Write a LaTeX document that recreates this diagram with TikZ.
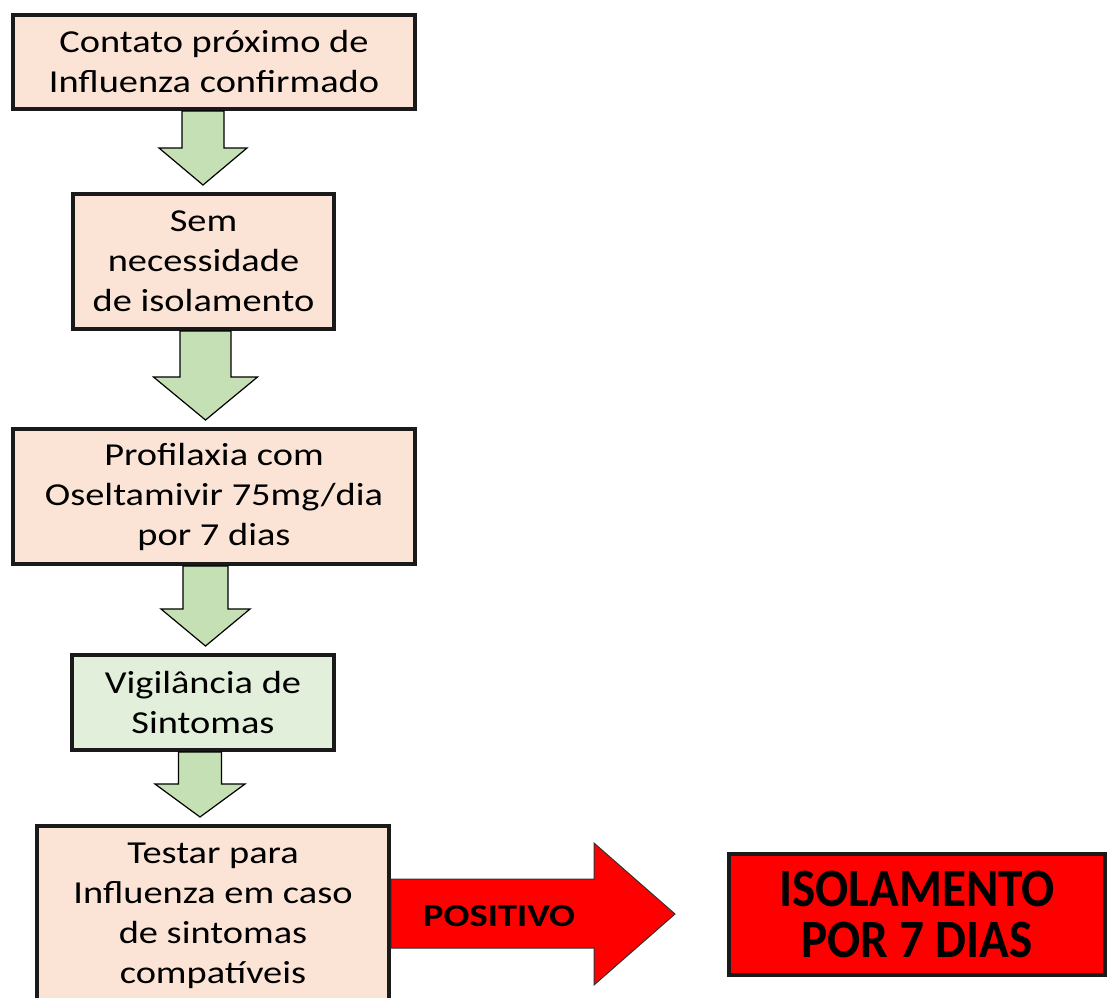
\documentclass[tikz,border=0pt]{standalone}
\usepackage{fontspec}
\setmainfont{Carlito}[FakeStretch=1.2]
\newfontfamily\isofont{Carlito}[FakeStretch=0.91]
\usetikzlibrary{positioning}
\usetikzlibrary{calc}

\definecolor{peach}{RGB}{251,228,213}
\definecolor{palegreen}{RGB}{226,239,218}
\definecolor{arrowgreen}{RGB}{197,224,180}
\definecolor{boxline}{RGB}{26,26,26}

% fat arrow from #1 down to #2: x centre, shaft half width, head half width, head length
\newcommand{\downblock}[6]{%
  \draw[greenarrow] let \p1=(#1.south), \p2=(#2.north) in
    (#3pt-#4pt,\y1) -- (#3pt+#4pt,\y1) -- (#3pt+#4pt,\y2+7pt+#6pt)
    -- (#3pt+#5pt,\y2+7pt+#6pt) -- (#3pt,\y2+7pt) -- (#3pt-#5pt,\y2+7pt+#6pt)
    -- (#3pt-#4pt,\y2+7pt+#6pt) -- cycle;}

\begin{document}
\begin{tikzpicture}[x=1pt, y=-1pt,
    flowbox/.style={draw=boxline, line width=4pt, fill=peach, align=center,
      inner sep=0pt, font=\fontsize{32}{40}\selectfont},
    greenarrow/.style={draw=black, line width=1.2pt, fill=arrowgreen},
    redarrow/.style={draw=black!80, line width=1pt, fill=red}]
    \path[use as bounding box, clip] (0,0) rectangle (1108,997);

    \node[flowbox, minimum width=402pt, minimum height=94pt] (contato) at (214,62)
      {Contato próximo de\\Influenza confirmado};
    \node[flowbox, minimum width=261pt, minimum height=135pt,
      below=81pt of contato, xshift=-10.5pt] (semiso)
      {Sem\\necessidade\\de isolamento};
    \node[flowbox, minimum width=402pt, minimum height=135pt,
      below=96pt of semiso, xshift=10.5pt] (profilaxia)
      {Profilaxia com\\Oseltamivir 75mg/dia\\por 7 dias};
    \node[flowbox, fill=palegreen, minimum width=262pt, minimum height=95pt,
      below=87pt of profilaxia, xshift=-11pt] (vigilancia)
      {Vigilância de\\Sintomas};
    \node[flowbox, minimum width=352pt, minimum height=180pt,
      below=72pt of vigilancia, xshift=10pt] (testar)
      {Testar para\\Influenza em caso\\de sintomas\\compatíveis};
    \node[flowbox, fill=red, minimum width=376pt, minimum height=121pt,
      right=336pt of testar, yshift=1.5pt,
      font=\isofont\bfseries\fontsize{54}{51}\selectfont] (isolamento)
      {ISOLAMENTO\\POR 7 DIAS};

    \downblock{contato}{semiso}{203}{21}{44}{37}
    \downblock{semiso}{profilaxia}{205.5}{25.5}{52}{43}
    \downblock{profilaxia}{vigilancia}{205.5}{22.5}{44.5}{37}
    \downblock{vigilancia}{testar}{200}{21.5}{45}{33}

    \draw[redarrow] let \p1=(testar.east), \p2=(isolamento.west) in
      (\x1,\y1+37pt) -- (\x2-133pt,\y1+37pt) -- (\x2-133pt,\y1+73pt)
      -- (\x2-52pt,\y1+2pt) -- (\x2-133pt,\y1-69pt) -- (\x2-133pt,\y1-32pt)
      -- (\x1,\y1-32pt) -- cycle;
    \node[font=\bfseries\fontsize{32}{40}\selectfont, inner sep=0pt,
      right=32pt of testar] (positivo) {POSITIVO};
\end{tikzpicture}
\end{document}
